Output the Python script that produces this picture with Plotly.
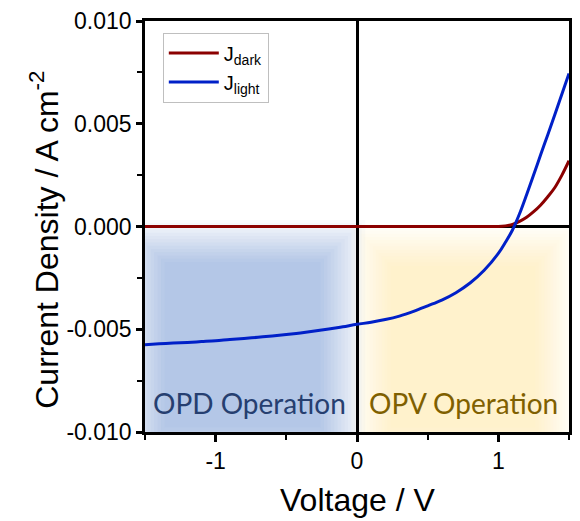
import plotly.graph_objects as go

# ---- data ----
voltage_light = [-1.5, -1.4, -1.3, -1.2, -1.1, -1.0, -0.9, -0.8, -0.7, -0.6, -0.5, -0.4, -0.3,
                 -0.2, -0.1, 0.0, 0.1, 0.2, 0.3, 0.4, 0.5, 0.6, 0.7, 0.8, 0.9, 1.0, 1.05, 1.1,
                 1.15, 1.2, 1.25, 1.3, 1.35, 1.4, 1.45, 1.5]
j_light = [-0.00575, -0.00571, -0.00567, -0.00564, -0.00560, -0.00556, -0.00550, -0.00545,
           -0.00539, -0.00533, -0.00526, -0.00518, -0.00509, -0.00499, -0.00488, -0.00476,
           -0.00466, -0.00453, -0.00436, -0.00413, -0.00386, -0.00358, -0.00322, -0.00275,
           -0.00213, -0.00131, -0.00077, -0.00017, 0.00062, 0.00155, 0.00252, 0.00350,
           0.00447, 0.00545, 0.00645, 0.00745]

voltage_dark = [-1.5, -1.0, -0.5, 0.0, 0.5, 0.9, 1.0, 1.05, 1.1, 1.15, 1.2, 1.25, 1.3, 1.35,
                1.4, 1.45, 1.5]
j_dark = [0.0, 0.0, 0.0, 0.0, 0.0, 0.0, 0.0, 0.00003, 0.0001, 0.00025, 0.00045, 0.00072,
          0.00105, 0.00145, 0.0019, 0.0025, 0.0032]

y_tickvals = [-0.010, -0.005, 0.0, 0.005, 0.010]
y_ticktext = ["-0.010", "-0.005", "0.000", "0.005", "0.010"]
x_tickvals = [-1, 0, 1]
x_ticktext = ["-1", "0", "1"]

region_labels = ["OPD Operation", "OPV Operation"]
region_label_x = [-0.76, 0.75]
region_label_y = [-0.0086, -0.0086]

x_title = "Voltage / V"
y_title = "Current Density / A cm<sup>-2</sup>"

# ---- figure ----
fig = go.Figure()

def blurred_rect(x0, x1, y0, y1, rx, ry, color, n=14):
    """Nested rectangles with opacities giving a linear fade of width 2r around the edges."""
    for k in range(1, n + 1):
        t = (k - 0.5) / n          # 0 outer -> 1 inner
        off = (0.5 - t) * 2        # +1 outer, -1 inner
        a = 1.0 / (n - k + 1)
        fig.add_shape(type="rect", xref="x", yref="y",
                      x0=x0 - off * rx, x1=x1 + off * rx,
                      y0=y0 - off * ry, y1=y1 + off * ry,
                      fillcolor=color, opacity=a, line_width=0, layer="below")

blurred_rect(-1.52, -0.10, -0.0108, -0.0007, 0.17, 0.0011, "#B4C7E7")
blurred_rect(0.10, 1.40, -0.0108, -0.0009, 0.15, 0.0011, "#FFF2CC")

fig.add_trace(go.Scatter(x=voltage_dark, y=j_dark, mode="lines", name="J<sub>dark</sub>",
                         line=dict(color="#8B0000", width=3), line_shape="spline"))
fig.add_trace(go.Scatter(x=voltage_light, y=j_light, mode="lines", name="J<sub>light</sub>",
                         line=dict(color="#0020C8", width=3), line_shape="spline"))

fig.add_annotation(x=region_label_x[0], y=region_label_y[0], text=region_labels[0],
                   showarrow=False, font=dict(family="Lato", size=28, color="#263F70"))
fig.add_annotation(x=region_label_x[1], y=region_label_y[1], text=region_labels[1],
                   showarrow=False, font=dict(family="Lato", size=28, color="#7F6000"))

title_font = dict(family="Arial, Liberation Sans", size=32, color="black")
fig.add_annotation(xref="paper", yref="paper", x=0.5, y=-0.165, text=x_title,
                   showarrow=False, xanchor="center", yanchor="middle", font=title_font)
fig.add_annotation(xref="paper", yref="paper", x=-0.238, y=0.468, text=y_title,
                   showarrow=False, xanchor="center", yanchor="middle", textangle=-90,
                   font=dict(family="Arial, Liberation Sans", size=32, color="black"))

axis_font = dict(family="Arial, Liberation Sans", size=23, color="black")

fig.update_layout(
    width=580, height=521,
    margin=dict(l=145, r=8, t=20, b=89),
    paper_bgcolor="white", plot_bgcolor="white",
    showlegend=True,
    legend=dict(x=0.042, y=0.972, xanchor="left", yanchor="top",
                bgcolor="white", bordercolor="#BFBFBF", borderwidth=1,
                font=dict(family="Arial, Liberation Sans", size=20, color="black"),
                itemwidth=50, tracegroupgap=0),
    xaxis=dict(range=[-1.5, 1.5], tickvals=x_tickvals, ticktext=x_ticktext,
               showgrid=False, zeroline=True, zerolinecolor="black", zerolinewidth=2.5,
               showline=True, linecolor="black", linewidth=2.5, mirror=True,
               ticks="outside", ticklen=7, tickwidth=2.5, tickcolor="black",
               minor=dict(dtick=0.5, ticks="outside", ticklen=5, tickwidth=2, tickcolor="black"),
               tickfont=axis_font),
    yaxis=dict(range=[-0.01, 0.01], tickvals=y_tickvals, ticktext=y_ticktext,
               showgrid=False, zeroline=True, zerolinecolor="black", zerolinewidth=2.5,
               showline=True, linecolor="black", linewidth=2.5, mirror=True,
               ticks="outside", ticklen=6, tickwidth=2.5, tickcolor="black",
               minor=dict(tickvals=[-0.0075, -0.0025, 0.0025, 0.0075], ticks="outside",
                          ticklen=5, tickwidth=2, tickcolor="black"),
               tickfont=axis_font),
)

fig.write_html("out.html")
